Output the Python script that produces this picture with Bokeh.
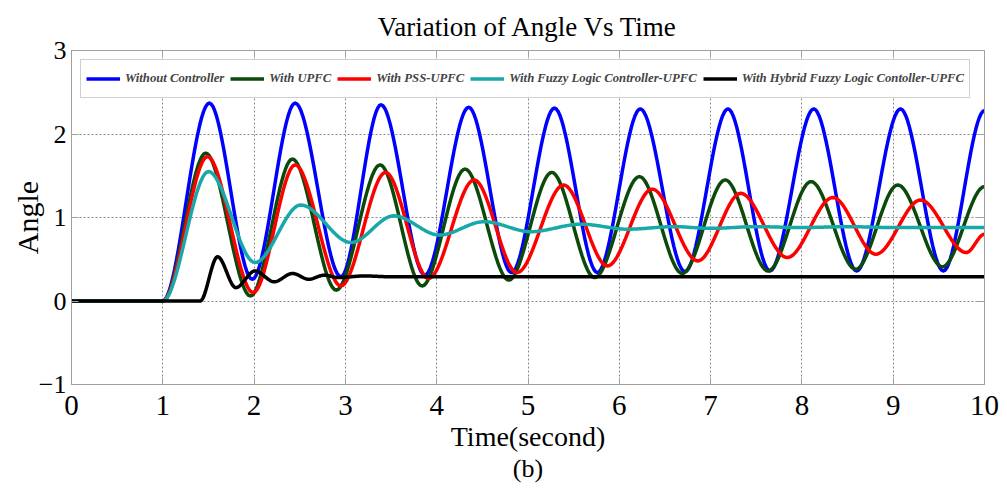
import numpy as np
from bokeh.plotting import figure
from bokeh.models import (Range1d, LinearAxis, FixedTicker, Legend, LegendItem, Title,
                          CustomLabelingPolicy)
from bokeh.embed import file_html
from bokeh.resources import INLINE

TITLE = "Variation of Angle Vs Time"
X_LABEL = "Time(second)"
Y_LABEL = "Angle"
CAPTION = "(b)"
X_TICKS = [0, 1, 2, 3, 4, 5, 6, 7, 8, 9, 10]
Y_TICKS = [-1, 0, 1, 2, 3]

NAMES = ["Without Controller", "With UPFC", "With PSS-UPFC",
         "With Fuzzy Logic Controller-UPFC",
         "With Hybrid Fuzzy Logic Contoller-UPFC"]
COLORS = ["#0000ff", "#0b4a0b", "#ff0000", "#17a9a9", "#000000"]

# read points (time, angle): starts, peaks and troughs
t_without = [0, 1.0, 1.51, 1.98, 2.45, 2.95, 3.39, 3.87, 4.35, 4.82, 5.29, 5.76,
             6.23, 6.72, 7.19, 7.65, 8.13, 8.60, 9.08, 9.55, 10.0]
a_without = [0, 0, 2.37, 0.26, 2.37, 0.29, 2.35, 0.31, 2.32, 0.34, 2.31, 0.34,
             2.30, 0.35, 2.30, 0.36, 2.30, 0.36, 2.30, 0.36, 2.28]

t_upfc = [0, 1.0, 1.47, 1.96, 2.42, 2.90, 3.38, 3.84, 4.31, 4.79, 5.26, 5.73,
          6.22, 6.69, 7.16, 7.63, 8.10, 8.59, 9.05, 9.54, 10.0]
a_upfc = [0, 0, 1.77, 0.06, 1.70, 0.13, 1.63, 0.18, 1.58, 0.25, 1.54, 0.28,
          1.49, 0.33, 1.45, 0.36, 1.43, 0.38, 1.39, 0.41, 1.37]

t_pss = [0, 1.0, 1.49, 1.99, 2.45, 2.95, 3.44, 3.91, 4.41, 4.88, 5.39, 5.87,
         6.36, 6.86, 7.33, 7.84, 8.34, 8.81, 9.30, 9.80, 10.0]
a_pss = [0, 0, 1.73, 0.10, 1.63, 0.18, 1.54, 0.27, 1.45, 0.34, 1.39, 0.42,
         1.34, 0.48, 1.29, 0.52, 1.24, 0.56, 1.21, 0.58, 0.80]

t_fuzzy = [0, 1.0, 1.50, 2.01, 2.51, 3.06, 3.53, 4.03, 4.52, 5.03, 5.58, 6.09,
           6.60, 7.00, 7.50, 8.00, 8.50, 9.00, 10.0]
a_fuzzy = [0, 0, 1.55, 0.46, 1.15, 0.70, 1.02, 0.79, 0.95, 0.83, 0.92, 0.86,
           0.89, 0.87, 0.89, 0.88, 0.89, 0.88, 0.88]

t_hybrid = [0, 1.41, 1.60, 1.80, 2.01, 2.22, 2.42, 2.60, 2.77, 2.92, 3.20, 3.50, 10.0]
a_hybrid = [0, 0, 0.53, 0.16, 0.36, 0.23, 0.33, 0.26, 0.31, 0.28, 0.30, 0.29, 0.29]

SERIES_T = [t_without, t_upfc, t_pss, t_fuzzy, t_hybrid]
SERIES_A = [a_without, a_upfc, a_pss, a_fuzzy, a_hybrid]


def smooth(xs, ys, n=24):
    """Monotone cubic (PCHIP-style) rendering through the read points."""
    x = np.asarray(xs, float)
    y = np.asarray(ys, float)
    h = np.diff(x)
    d = np.diff(y) / h
    m = np.zeros_like(y)
    for k in range(1, len(x) - 1):
        if d[k - 1] * d[k] > 0:
            w1 = 2 * h[k] + h[k - 1]
            w2 = h[k] + 2 * h[k - 1]
            m[k] = (w1 + w2) / (w1 / d[k - 1] + w2 / d[k])
    px, py = [], []
    for k in range(len(x) - 1):
        u = np.linspace(0, 1, n, endpoint=False)
        h00 = 2 * u**3 - 3 * u**2 + 1
        h10 = u**3 - 2 * u**2 + u
        h01 = -2 * u**3 + 3 * u**2
        h11 = u**3 - u**2
        px.extend(x[k] + u * h[k])
        py.extend(h00 * y[k] + h10 * h[k] * m[k] + h01 * y[k + 1] + h11 * h[k] * m[k + 1])
    px.append(x[-1])
    py.append(y[-1])
    return px, py


SERIF = "Liberation Serif"
GREY = "#a0a0a0"

p = figure(width=1000, height=490, x_range=Range1d(0, 10), y_range=Range1d(-1, 3),
           output_backend="svg", toolbar_location=None,
           min_border_left=71, min_border_right=16, min_border_top=50, min_border_bottom=106)
p.background_fill_color = "white"
p.outline_line_color = GREY
p.outline_line_width = 1

p.title.text = TITLE
p.title.align = "center"
p.title.text_font = SERIF
p.title.text_font_size = "27px"
p.title.text_font_style = "normal"
p.title.text_color = "#000000"
p.title.standoff = 4

p.xgrid.ticker = FixedTicker(ticks=[1, 2, 3, 4, 5, 6, 7, 8, 9])
p.ygrid.ticker = FixedTicker(ticks=[0, 1, 2])
for g in (p.xgrid, p.ygrid):
    g.grid_line_color = "#8a8a8a"
    g.grid_line_dash = "2 2"
    g.grid_line_width = 1

for ax, ticks, fs in ((p.xaxis[0], X_TICKS, "29px"), (p.yaxis[0], Y_TICKS, "26px")):
    ax.ticker = FixedTicker(ticks=ticks)
    ax.major_tick_in = 7
    ax.major_tick_out = 0
    ax.minor_tick_line_color = None
    ax.axis_line_color = GREY
    ax.major_tick_line_color = GREY
    ax.major_label_text_font = SERIF
    ax.major_label_text_font_size = fs
    ax.major_label_text_color = "#000000"
    ax.axis_label_text_font = SERIF
    ax.axis_label_text_font_style = "normal"
    ax.axis_label_text_color = "#000000"

p.xaxis.axis_label = X_LABEL
p.xaxis.axis_label_text_font_size = "28px"
p.xaxis.major_label_standoff = 11
p.xaxis.axis_label_standoff = 3
p.yaxis.axis_label = Y_LABEL
p.yaxis.axis_label_text_font_size = "30px"
p.yaxis.major_label_standoff = 5
p.yaxis.axis_label_standoff = -8

hide_all = CustomLabelingPolicy(
    code="for (const i of Array.from(indices)) indices.unset(i); return indices")
for side, ticks in (("above", X_TICKS), ("right", Y_TICKS)):
    ax = LinearAxis(ticker=FixedTicker(ticks=ticks), major_tick_in=7, major_tick_out=0,
                    axis_line_color=GREY, major_tick_line_color=GREY,
                    minor_tick_line_color=None, major_label_text_font_size="6px",
                    major_label_policy=hide_all, major_label_standoff=0)
    p.add_layout(ax, side)

cap = Title(text=CAPTION, align="center", text_font=SERIF, text_font_size="26px",
            text_font_style="normal", text_color="#000000", standoff=-2,
            vertical_align="top")
p.add_layout(cap, "below")

items = []
for name, col, ts, as_ in zip(NAMES, COLORS, SERIES_T, SERIES_A):
    sx, sy = smooth(ts, as_)
    r = p.line(sx, sy, line_color=col, line_width=3.5, line_join="round")
    items.append(LegendItem(label=name, renderers=[r]))

legend = Legend(items=items, orientation="horizontal", location="top_left",
                margin=9, padding=5, spacing=6, glyph_width=34, glyph_height=27,
                label_height=27, label_standoff=5,
                label_text_font=SERIF, label_text_font_style="bold italic",
                label_text_font_size="12.7px", border_line_color=GREY,
                border_line_width=1, background_fill_color="white")
p.add_layout(legend, "center")

open("out.html", "w").write(file_html(p, INLINE))
